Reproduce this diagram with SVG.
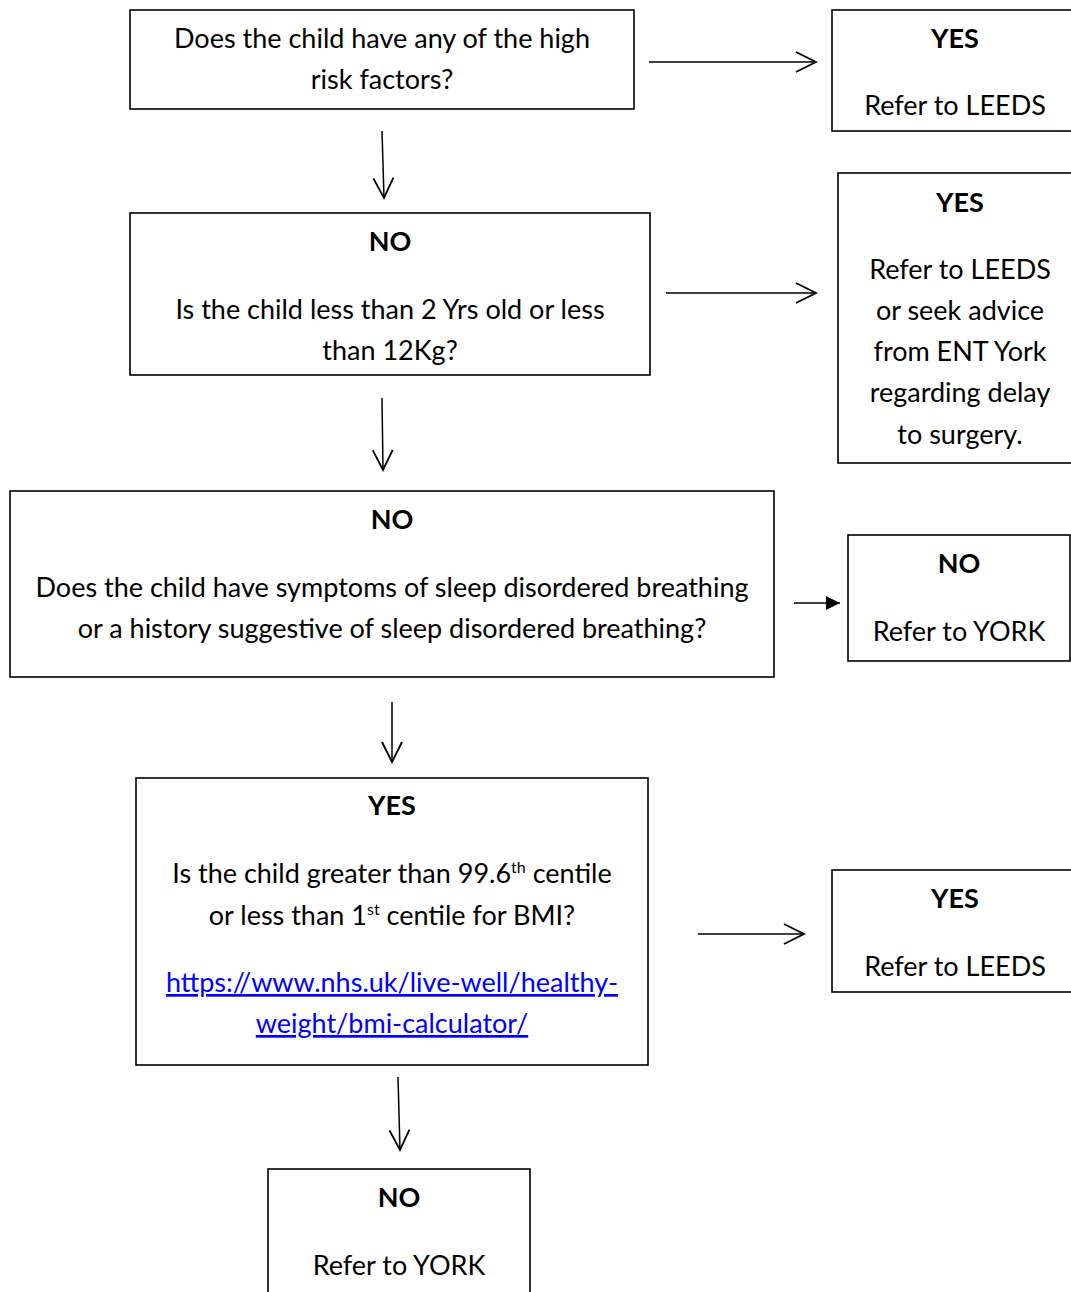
<svg xmlns="http://www.w3.org/2000/svg" width="1071" height="1292" viewBox="0 0 1071 1292">
<style>
.box{fill:#fff;stroke:#000;stroke-width:1.6}
text{font-family:Lato,"Liberation Sans",sans-serif;font-size:27px;fill:#000;text-anchor:middle}
.b{font-weight:bold}
.link{fill:#0000ff;text-decoration:underline}
.sup{font-size:16px}
.con{stroke:#000;stroke-width:1.5;fill:none}
</style>
<defs>
<marker id="open" markerUnits="userSpaceOnUse" markerWidth="24" markerHeight="24" viewBox="0 0 24 24" refX="22" refY="12" orient="auto">
<path d="M2,2 L22,12 L2,22" fill="none" stroke="#000" stroke-width="1.8"/>
</marker>
<marker id="solid" markerUnits="userSpaceOnUse" markerWidth="16" markerHeight="16" viewBox="0 0 16 16" refX="15" refY="8" orient="auto">
<path d="M1,1 L15,8 L1,15 Z" fill="#000"/>
</marker>
</defs>
<rect width="1071" height="1292" fill="#fff"/>
<g id="connectors">
<line class="con" x1="649" y1="62" x2="816" y2="62" marker-end="url(#open)"/>
<line class="con" x1="382" y1="131" x2="384" y2="198" marker-end="url(#open)"/>
<line class="con" x1="666" y1="293" x2="816" y2="293" marker-end="url(#open)"/>
<line class="con" x1="382" y1="398" x2="383" y2="470" marker-end="url(#open)"/>
<line class="con" x1="794" y1="603" x2="840" y2="603" marker-end="url(#solid)"/>
<line class="con" x1="392" y1="702" x2="392" y2="762" marker-end="url(#open)"/>
<line class="con" x1="698" y1="934" x2="804" y2="934" marker-end="url(#open)"/>
<line class="con" x1="398" y1="1077" x2="400" y2="1150" marker-end="url(#open)"/>
</g>
<g id="q1">
<rect class="box" x="130" y="10" width="504" height="99"/>
<text x="382" y="48">Does the child have any of the high</text>
<text x="382" y="89">risk factors?</text>
</g>
<g id="yes1">
<rect class="box" x="832" y="10" width="260" height="121"/>
<text class="b" x="955" y="48">YES</text>
<text x="955" y="115">Refer to LEEDS</text>
</g>
<g id="q2">
<rect class="box" x="130" y="213" width="520" height="162"/>
<text class="b" x="390" y="251">NO</text>
<text x="390" y="319">Is the child less than 2 Yrs old or less</text>
<text x="390" y="360">than 12Kg?</text>
</g>
<g id="yes2">
<rect class="box" x="838" y="173" width="260" height="290"/>
<text class="b" x="960" y="212">YES</text>
<text x="960" y="279">Refer to LEEDS</text>
<text x="960" y="320">or seek advice</text>
<text x="960" y="361">from ENT York</text>
<text x="960" y="402">regarding delay</text>
<text x="960" y="444">to surgery.</text>
</g>
<g id="q3">
<rect class="box" x="10" y="491" width="764" height="186"/>
<text class="b" x="392" y="529">NO</text>
<text x="392" y="597">Does the child have symptoms of sleep disordered breathing</text>
<text x="392" y="638">or a history suggestive of sleep disordered breathing?</text>
</g>
<g id="no3">
<rect class="box" x="848" y="535" width="222" height="126"/>
<text class="b" x="959" y="573">NO</text>
<text x="959" y="641">Refer to YORK</text>
</g>
<g id="q4">
<rect class="box" x="136" y="778" width="512" height="287"/>
<text class="b" x="392" y="815">YES</text>
<text x="392" y="883">Is the child greater than 99.6<tspan class="sup" dy="-10">th</tspan><tspan dy="10"> centile</tspan></text>
<text x="392" y="925">or less than 1<tspan class="sup" dy="-10">st</tspan><tspan dy="10"> centile for BMI?</tspan></text>
<text class="link" x="392" y="992">https://www.nhs.uk/live-well/healthy-</text>
<text class="link" x="392" y="1033">weight/bmi-calculator/</text>
</g>
<g id="yes4">
<rect class="box" x="832" y="870" width="260" height="122"/>
<text class="b" x="955" y="908">YES</text>
<text x="955" y="976">Refer to LEEDS</text>
</g>
<g id="no5">
<rect class="box" x="268" y="1169" width="262" height="140"/>
<text class="b" x="399" y="1207">NO</text>
<text x="399" y="1275">Refer to YORK</text>
</g>
</svg>
